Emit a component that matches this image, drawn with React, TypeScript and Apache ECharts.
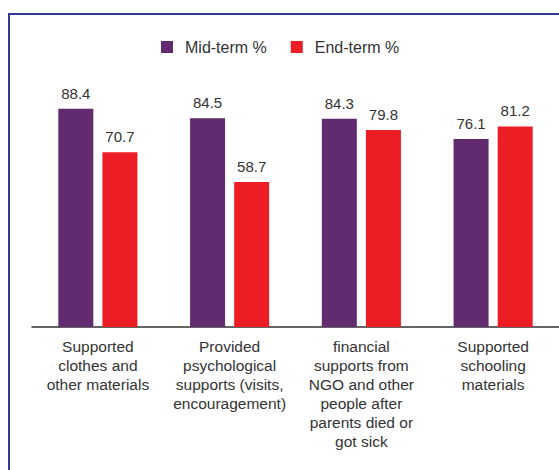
import React, { useEffect, useRef } from "react";
import * as echarts from "echarts";

const categories = [
  "Supported\nclothes and\nother materials",
  "Provided\npsychological\nsupports (visits,\nencouragement)",
  "financial\nsupports from\nNGO and other\npeople after\nparents died or\ngot sick",
  "Supported\nschooling\nmaterials",
];
const seriesNames = ["Mid-term %", "End-term %"];
const midTerm = [88.4, 84.5, 84.3, 76.1];
const endTerm = [70.7, 58.7, 79.8, 81.2];

const PURPLE = "#622a6f";
const RED = "#ec1d25";
const TEXT = "#333333";
const FONT = "Liberation Sans, Arial, Helvetica, sans-serif";

export default function App() {
  const ref = useRef<HTMLDivElement>(null);
  useEffect(() => {
    if (!ref.current) return;
    const chart = echarts.init(ref.current, null, { renderer: "svg" });
    chart.setOption({
      animation: false,
      backgroundColor: "#ffffff",
      textStyle: { fontFamily: FONT },
      legend: {
        data: seriesNames,
        left: 156,
        top: 34,
        icon: "rect",
        itemWidth: 12,
        itemHeight: 12,
        itemGap: 24,
        textStyle: { fontSize: 16, color: TEXT, fontFamily: FONT, padding: [0, 0, 0, 7] },
      },
      grid: { left: 32, top: 80, width: 528, height: 247, containLabel: false },
      xAxis: {
        type: "category",
        data: categories,
        axisLine: { show: true, lineStyle: { color: "#333333", width: 1.5 } },
        axisTick: { show: false },
        axisLabel: {
          interval: 0,
          margin: 10,
          fontSize: 15.5,
          lineHeight: 19,
          color: TEXT,
          fontFamily: FONT,
          align: "center",
        },
      },
      yAxis: {
        type: "value",
        min: 0,
        max: 100,
        show: false,
        splitLine: { show: false },
      },
      series: [
        {
          name: seriesNames[0],
          type: "bar",
          data: midTerm,
          barWidth: 35,
          barGap: "26%",
          itemStyle: { color: PURPLE },
          label: { show: true, position: "top", distance: 8, fontSize: 15, color: TEXT, fontFamily: FONT },
        },
        {
          name: seriesNames[1],
          type: "bar",
          data: endTerm,
          barWidth: 35,
          barGap: "26%",
          itemStyle: { color: RED },
          label: { show: true, position: "top", distance: 8, fontSize: 15, color: TEXT, fontFamily: FONT },
        },
      ],
      graphic: [
        {
          type: "line",
          shape: { x1: 8, y1: 14, x2: 559, y2: 14 },
          style: { stroke: "#2f3d96", lineWidth: 2 },
        },
        {
          type: "line",
          shape: { x1: 9, y1: 13, x2: 9, y2: 470 },
          style: { stroke: "#2f3d96", lineWidth: 2 },
        },
      ],
    });
    return () => chart.dispose();
  }, []);
  return (
    <div
      ref={ref}
      style={{ position: "fixed", left: 0, top: 0, width: 559, height: 470 }}
    />
  );
}
